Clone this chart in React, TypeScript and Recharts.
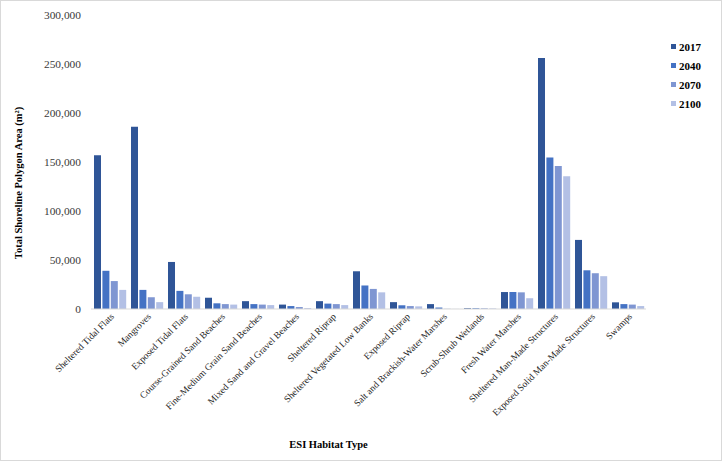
import { BarChart, Bar, XAxis, YAxis, Legend } from 'recharts';

// ESI habitat types (x axis)
const categories = [
    'Sheltered Tidal Flats',
    'Mangroves',
    'Exposed Tidal Flats',
    'Course-Grained Sand Beaches',
    'Fine-Medium Grain Sand Beaches',
    'Mixed Sand and Gravel Beaches',
    'Sheltered Riprap',
    'Sheltered Vegetated Low Banks',
    'Exposed Riprap',
    'Salt and Brackish-Water Marshes',
    'Scrub-Shrub Wetlands',
    'Fresh Water Marshes',
    'Sheltered Man-Made Structures',
    'Exposed Solid Man-Made Structures',
    'Swamps',
];

const area2017 = [157000, 186000, 48000, 11500, 8000, 4500, 8000, 38500, 7000, 5000, 800, 17300, 256000, 70500, 6800];
const area2040 = [39000, 19500, 18500, 5800, 5000, 3000, 5500, 24000, 3800, 1500, 800, 17300, 154500, 39500, 5000];
const area2070 = [28500, 12000, 15000, 5000, 4500, 2000, 5000, 20500, 3000, 200, 700, 17000, 146000, 36500, 4500];
const area2100 = [19500, 7000, 12500, 4500, 4000, 1000, 4000, 17000, 2700, 100, 600, 11000, 135500, 33500, 3000];

const yTicks = [0, 50000, 100000, 150000, 200000, 250000, 300000];

const series = [
    { key: 'y2017', name: '2017', color: '#2f5597' },
    { key: 'y2040', name: '2040', color: '#4472c4' },
    { key: 'y2070', name: '2070', color: '#7f96d2' },
    { key: 'y2100', name: '2100', color: '#b3c0e5' },
];

const data = categories.map((name, i) => ({
    name,
    y2017: area2017[i],
    y2040: area2040[i],
    y2070: area2070[i],
    y2100: area2100[i],
}));

const FONT = 'Liberation Serif';

// 斜放的類別標籤
const AngledTick = ({ x, y, payload }: any) => (
    <g transform={`translate(${x + 3},${y - 2}) rotate(-45)`}>
        <text x={0} y={0} dy={3} textAnchor="end" fontSize={9.5} fontFamily={FONT} fill="#262626">
            {payload.value}
        </text>
    </g>
);

const LegendContent = ({ payload }: any) => (
    <div style={{ fontFamily: FONT, fontWeight: 'bold', fontSize: 11, color: '#000' }}>
        {(payload || []).map((p: any) => (
            <div key={p.value} style={{ display: 'flex', alignItems: 'center', height: 19 }}>
                <span style={{ width: 5, height: 5, background: p.color, marginRight: 3, display: 'inline-block' }} />
                <span>{p.value}</span>
            </div>
        ))}
    </div>
);

const YLabel = ({ viewBox }: any) => {
    const cx = viewBox.x + 13;
    const cy = viewBox.y + viewBox.height / 2 + 21;
    return (
        <text
            transform={`translate(${cx},${cy}) rotate(-90)`}
            textAnchor="middle"
            dominantBaseline="central"
            fontFamily={FONT}
            fontWeight="bold"
            fontSize={10.5}
            fill="#000"
        >
            Total Shoreline Polygon Area (m²)
        </text>
    );
};

export default function App() {
    return (
        <div
            style={{
                position: 'fixed',
                left: 0,
                top: 0,
                width: 720,
                height: 459,
                border: '1px solid #d9d9d9',
                background: '#fff',
                fontFamily: FONT,
            }}
        >
            <BarChart
                width={720}
                height={459}
                data={data}
                margin={{ top: 14, right: 75, left: 4, bottom: 11 }}
                barCategoryGap={3}
                barGap={1.4}
                style={{ fontFamily: FONT }}
            >
                <XAxis
                    dataKey="name"
                    interval={0}
                    height={140}
                    tickLine={false}
                    axisLine={{ stroke: '#d9d9d9' }}
                    tick={<AngledTick />}
                    label={{
                        value: 'ESI Habitat Type',
                        position: 'insideBottom',
                        offset: 1,
                        dx: -40,
                        style: { fontFamily: FONT, fontWeight: 'bold', fontSize: 10.5, fill: '#000' },
                    }}
                />
                <YAxis
                    width={86}
                    domain={[0, 300000]}
                    ticks={yTicks}
                    axisLine={false}
                    tickLine={false}
                    tickMargin={4}
                    tick={{ fontSize: 11.4, fontFamily: FONT, fill: '#3a3a3a' }}
                    tickFormatter={(v) => v.toLocaleString('en-US')}
                    label={<YLabel />}
                />
                <Legend
                    layout="vertical"
                    align="center"
                    verticalAlign="middle"
                    content={<LegendContent />}
                    wrapperStyle={{ position: 'absolute', left: 670, top: 36, width: 45, height: 80 }}
                />
                {series.map((s) => (
                    <Bar key={s.key} dataKey={s.key} name={s.name} fill={s.color} isAnimationActive={false} />
                ))}
            </BarChart>
        </div>
    );
}
